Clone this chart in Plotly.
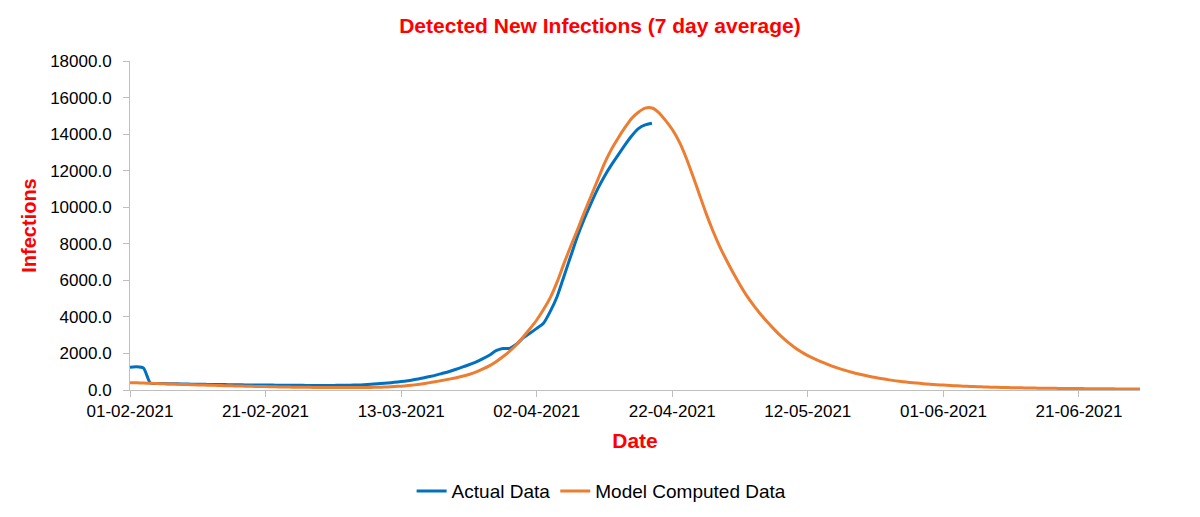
import pandas as pd
import plotly.graph_objects as go

# daily 7-day averages, starting 01-02-2021
start_date = "2021-02-01"

actual_data = [
    1250, 1270, 1200, 380, 360, 350, 345, 340, 330, 320,
    315, 310, 305, 300, 295, 290, 285, 280, 275, 272,
    270, 268, 265, 262, 258, 255, 252, 250, 250, 250,
    252, 255, 260, 268, 280, 300, 325, 355, 385, 420,
    460, 510, 570, 640, 720, 800, 900, 1000, 1120, 1250,
    1380, 1520, 1700, 1900, 2150, 2270, 2280, 2500, 2850, 3100,
    3370, 3650, 4300, 5100, 6200, 7300, 8400, 9350, 10200, 11000,
    11700, 12300, 12850, 13400, 13900, 14300, 14500, 14590,
]

model_data = [
    400, 390, 380, 370, 355, 340, 330, 320, 305, 290,
    280, 270, 258, 248, 238, 228, 220, 210, 200, 192,
    185, 178, 170, 163, 157, 152, 147, 142, 138, 135,
    133, 132, 132, 133, 136, 140, 147, 157, 170, 188,
    210, 240, 280, 330, 390, 450, 520, 590, 660, 750,
    850, 980, 1140, 1320, 1550, 1820, 2120, 2480, 2900, 3350,
    3830, 4400, 5050, 5900, 6900, 7850, 8750, 9700, 10600, 11500,
    12400, 13150, 13770, 14350, 14860, 15200, 15420, 15430, 15180, 14750,
    14250, 13600, 12750, 11750, 10700, 9650, 8700, 7850, 7100, 6400,
    5750, 5150, 4630, 4160, 3730, 3330, 2960, 2630, 2340, 2090,
    1880, 1700, 1540, 1390, 1250, 1130, 1020, 920, 830, 750,
    680, 615, 555, 500, 455, 415, 380, 348, 318, 292,
    268, 247, 228, 210, 194, 180, 167, 155, 145, 136,
    128, 121, 114, 108, 102, 97, 92, 88, 84, 80,
    77, 74, 71, 68, 65, 62, 60, 57, 55, 53,
]

dates_actual = pd.date_range(start_date, periods=len(actual_data), freq="D")
dates_model = pd.date_range(start_date, periods=len(model_data), freq="D")

RED = "#FF0000"
FONT = "Liberation Sans"
AXIS_GREY = "#BFBFBF"

fig = go.Figure()
fig.add_trace(go.Scatter(
    x=dates_actual, y=actual_data, name="Actual Data", mode="lines",
    line=dict(color="#0070C0", width=3, shape="spline", smoothing=0.6),
))
fig.add_trace(go.Scatter(
    x=dates_model, y=model_data, name="Model Computed Data", mode="lines",
    line=dict(color="#ED7D31", width=3, shape="spline", smoothing=0.6),
))

# page body has an 8px margin, so the figure is a little smaller than the window
fig.update_layout(
    width=1192, height=509,
    plot_bgcolor="white", paper_bgcolor="white",
    margin=dict(l=122, r=60, t=53, b=127),
    font=dict(family=FONT, size=17, color="#000000"),
    title=dict(
        text="<b>Detected New Infections (7 day average)</b>",
        x=0.4966, xref="container", y=0.9646, yref="container",
        xanchor="center", yanchor="middle",
        font=dict(family=FONT, size=21, color=RED),
    ),
    legend=dict(
        orientation="h", x=0.498, xref="container", xanchor="center",
        y=0.051, yref="container", yanchor="middle",
        font=dict(size=19),
    ),
)

fig.update_xaxes(
    type="date",
    range=["2021-02-01", "2021-06-30"],
    tick0="2021-02-01", dtick=20 * 86400000,
    tickformat="%d-%m-%Y",
    showgrid=False, zeroline=False, automargin=False,
    showline=True, linecolor=AXIS_GREY, linewidth=1,
    ticks="outside", tickcolor=AXIS_GREY, ticklen=6,
    title=dict(text="<b>Date</b>", font=dict(size=21, color=RED), standoff=12),
)
fig.update_yaxes(
    range=[0, 18000], dtick=2000, tickformat=".1f",
    showgrid=False, zeroline=False, automargin=False,
    showline=True, linecolor=AXIS_GREY, linewidth=1,
    ticks="outside", tickcolor=AXIS_GREY, ticklen=6,
    ticklabelstandoff=8,
    title=dict(text="<b>Infections</b>", font=dict(size=20, color=RED), standoff=8),
)

fig.write_html("out.html")
